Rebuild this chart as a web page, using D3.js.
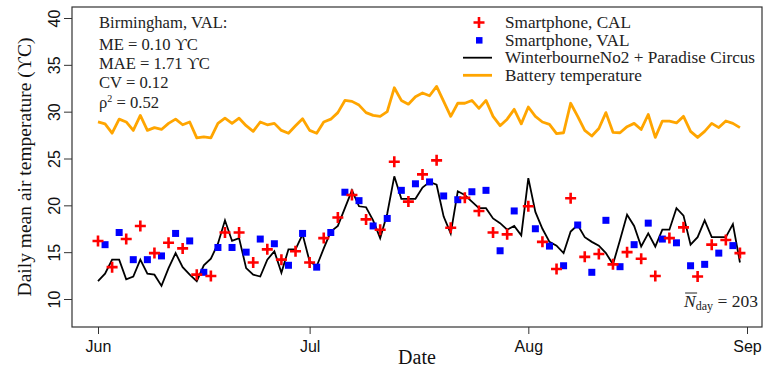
<!DOCTYPE html>
<html lang="en">
  <head>
    <meta charset="UTF-8" />
    <title>Birmingham daily temperature</title>
    <script src="https://d3js.org/d3.v7.min.js"></script>
    <style>
      html,
      body {
        margin: 0;
        padding: 0;
        background: #fff;
      }
      svg {
        display: block;
        font-family: "Liberation Serif", "DejaVu Serif", serif;
      }
      .tick text {
        font-size: 16px;
        fill: #111;
      }
    </style>
  </head>
  <body>
    <svg id="chart" width="768" height="373"></svg>

    <script>
      // Day offsets are counted from 1 June
      const startDate = Date.UTC(2015, 5, 1);

      // WinterbourneNo2 + Paradise Circus, one value per day (1 Jun - 31 Aug)
      const stationTemp = [
        11.9, 12.7, 14.2, 14.2, 12.1, 12.4, 14.2, 12.7, 12.6, 11.4, 13.3, 14.9,
        13.4, 12.6, 11.9, 13.6, 14.3, 15.9, 18.4, 16.2, 16.5, 13.3, 12.6, 12.4,
        14.2, 15.1, 12.8, 15.3, 15.3, 16.9, 14.0, 13.5, 15.4, 17.2, 17.8, 19.7,
        21.6, 19.9, 19.8, 18.4, 16.5, 19.1, 23.1, 20.7, 20.7, 20.7, 21.9, 22.5,
        22.2, 18.8, 17.0, 21.5, 21.1, 20.4, 19.7, 19.7, 18.6, 18.1, 17.4, 17.8,
        16.8, 22.9, 19.3, 17.5, 16.1, 15.7, 14.9, 17.2, 17.9, 16.6, 16.1, 15.7,
        14.9, 13.7, 16.3, 19.0, 17.8, 15.6, 17.0, 15.6, 17.4, 17.4, 19.7, 18.9,
        15.8, 16.6, 18.4, 16.6, 16.6, 16.6, 18.0, 13.9,
      ];

      // Battery temperature, one value per day
      const batteryTemp = [
        28.9, 28.7, 27.7, 29.2, 28.9, 28.0, 29.6, 28.0, 28.3, 28.1, 28.75, 29.2,
        28.6, 28.9, 27.2, 27.3, 27.2, 28.75, 29.3, 28.75, 29.3, 28.5, 27.9, 28.9,
        28.6, 28.75, 28.0, 27.7, 28.5, 29.25, 28.0, 27.7, 28.9, 29.2, 29.9, 31.2,
        31.1, 30.7, 29.9, 29.6, 29.5, 30.0, 32.55, 31.2, 30.8, 31.6, 32.0, 31.7,
        32.7, 31.1, 29.5, 30.9, 30.9, 31.2, 30.35, 31.2, 29.5, 28.5, 29.2, 30.25,
        28.7, 30.5, 29.5, 28.9, 28.65, 27.65, 27.75, 30.9, 29.5, 28.0, 27.4, 28.2,
        29.9, 27.8, 27.75, 28.4, 28.75, 28.1, 29.7, 27.25, 29.0, 29.0, 28.8, 29.5,
        27.9, 27.25, 27.9, 28.75, 28.3, 29.0, 28.75, 28.3,
      ];

      // Smartphone, CAL
      const calDay = [
        0, 2, 4, 6, 8, 10, 12, 14, 16, 18, 20, 22, 24, 26, 28, 30, 32, 34, 36,
        38, 40, 42, 44, 46, 48, 50, 52, 54, 56, 58, 61, 63, 65, 67, 69, 71, 73,
        75, 77, 79, 81, 83, 85, 87, 89, 91,
      ];
      const calTemp = [
        16.2, 13.4, 16.4, 17.8, 14.9, 16.0, 15.4, 12.6, 12.45, 17.1, 17.1, 13.9,
        15.3, 14.2, 15.1, 13.9, 16.5, 18.7, 21.1, 18.5, 17.4, 24.65, 20.4, 23.3,
        24.8, 17.6, 20.8, 19.4, 17.1, 16.9, 19.9, 16.1, 13.2, 20.75, 14.5, 14.8,
        13.7, 15.0, 14.3, 12.45, 16.5, 17.65, 12.4, 15.8, 16.3, 14.9,
      ];

      // Smartphone, VAL
      const valDay = [
        1, 3, 5, 7, 9, 11, 13, 15, 17, 19, 21, 23, 25, 27, 29, 31, 33, 35, 37,
        39, 41, 43, 45, 47, 49, 51, 53, 55, 57, 59, 62, 64, 66, 68, 70, 72, 74,
        76, 78, 80, 82, 84, 86, 88, 90,
      ];
      const valTemp = [
        15.8, 17.1, 14.2, 14.2, 14.6, 17.0, 16.2, 12.85, 15.5, 15.5, 15.0, 16.4,
        15.9, 13.6, 17.0, 13.4, 17.1, 21.4, 20.5, 17.8, 18.6, 21.6, 22.3, 22.5,
        21.0, 20.6, 21.45, 21.6, 15.15, 19.4, 17.5, 15.65, 13.55, 17.9, 12.85,
        18.4, 13.45, 15.8, 18.1, 16.4, 16.0, 13.55, 13.7, 14.9, 15.7,
      ];

      const yTicks = [10, 15, 20, 25, 30, 35, 40];
      const monthTicks = ["Jun", "Jul", "Aug", "Sep"];

      const statLines = [
        "Birmingham, VAL:",
        "ME = 0.10 \u03D2C",
        "MAE = 1.71 \u03D2C",
        "CV = 0.12",
      ];

      const legendLabels = [
        "Smartphone, CAL",
        "Smartphone, VAL",
        "WinterbourneNo2 + Paradise Circus",
        "Battery temperature",
      ];

      const dayToDate = (d) => new Date(startDate + d * 86400000);

      // Plot box
      const box = { left: 72, top: 7, right: 762, bottom: 327 };

      const svg = d3.select("#chart");

      const x = d3
        .scaleUtc()
        .domain([dayToDate(0), dayToDate(92)])
        .range([98, 747]);

      const y = d3.scaleLinear().domain([10, 40]).range([299, 18]);

      // Axes
      const monthDates = monthTicks.map(
        (m, i) => new Date(Date.UTC(2015, 5 + i, 1))
      );
      const xAxis = d3
        .axisBottom(x)
        .tickValues(monthDates)
        .tickFormat((d, i) => monthTicks[i])
        .tickSize(7)
        .tickPadding(4);

      const gx = svg
        .append("g")
        .attr("transform", `translate(0,${box.bottom})`)
        .call(xAxis);
      gx.select(".domain").remove();
      gx.selectAll(".tick line").attr("stroke", "#333");
      gx.selectAll(".tick text").attr("dy", "0.85em");

      const yAxis = d3.axisLeft(y).tickValues(yTicks).tickSize(8);

      const gy = svg
        .append("g")
        .attr("transform", `translate(${box.left},0)`)
        .call(yAxis);
      gy.select(".domain").remove();
      gy.selectAll(".tick line").attr("stroke", "#333");
      // R style: labels parallel to the axis
      gy.selectAll(".tick text")
        .attr("text-anchor", "middle")
        .attr("transform", "rotate(-90)")
        .attr("x", 0)
        .attr("y", -12)
        .attr("dy", 0);

      // Plot frame
      svg
        .append("rect")
        .attr("x", box.left)
        .attr("y", box.top)
        .attr("width", box.right - box.left)
        .attr("height", box.bottom - box.top)
        .attr("fill", "none")
        .attr("stroke", "#333")
        .attr("stroke-width", 1.2);

      // Lines
      const line = d3
        .line()
        .x((d, i) => x(dayToDate(i)))
        .y((d) => y(d));

      svg
        .append("path")
        .datum(batteryTemp)
        .attr("d", line)
        .attr("fill", "none")
        .attr("stroke", "#FFA500")
        .attr("stroke-width", 2.8)
        .attr("stroke-linejoin", "round");

      svg
        .append("path")
        .datum(stationTemp)
        .attr("d", line)
        .attr("fill", "none")
        .attr("stroke", "#000")
        .attr("stroke-width", 1.8);

      // Points
      const drawCross = (g, cx, cy) => {
        g.append("path")
          .attr(
            "d",
            `M${cx - 5.5},${cy}H${cx + 5.5}M${cx},${cy - 5.5}V${cy + 5.5}`
          )
          .attr("stroke", "#FF0000")
          .attr("stroke-width", 2.6);
      };

      const valG = svg.append("g");
      valG
        .selectAll("rect")
        .data(valDay)
        .join("rect")
        .attr("x", (d) => x(dayToDate(d)) - 3.5)
        .attr("y", (d, i) => y(valTemp[i]) - 3.5)
        .attr("width", 7)
        .attr("height", 7)
        .attr("fill", "#0000FF");

      const calG = svg.append("g");
      calDay.forEach((d, i) => drawCross(calG, x(dayToDate(d)), y(calTemp[i])));

      // Stats text, one text element per line
      const statY = [28, 50, 69, 88, 108];
      const stats = svg.append("g").attr("font-size", 16.6).attr("fill", "#222");
      statLines.forEach((s, i) => {
        stats.append("text").attr("x", 99).attr("y", statY[i]).text(s);
      });
      const rho = stats.append("text").attr("x", 99).attr("y", statY[4]);
      rho.append("tspan").text("\u03C1");
      rho.append("tspan").attr("font-size", 10).attr("dy", -6).text("2");
      rho.append("tspan").attr("dy", 6).text(" = 0.52");

      // Legend
      const legend = svg.append("g");
      legendLabels.forEach((lab, i) => {
        const cy = 22.5 + i * 17.6;
        if (i === 0) drawCross(legend, 479, cy);
        if (i === 1)
          legend
            .append("rect")
            .attr("x", 476)
            .attr("y", cy - 3)
            .attr("width", 6.5)
            .attr("height", 6.5)
            .attr("fill", "#0000FF");
        if (i === 2)
          legend
            .append("line")
            .attr("x1", 463)
            .attr("x2", 492)
            .attr("y1", cy)
            .attr("y2", cy)
            .attr("stroke", "#000")
            .attr("stroke-width", 1.8);
        if (i === 3)
          legend
            .append("line")
            .attr("x1", 463)
            .attr("x2", 492)
            .attr("y1", cy)
            .attr("y2", cy)
            .attr("stroke", "#FFA500")
            .attr("stroke-width", 2.8);
        legend
          .append("text")
          .attr("x", 505)
          .attr("y", cy + 5.5)
          .attr("font-size", 17.2)
          .attr("fill", "#222")
          .text(lab);
      });

      // N_day annotation
      const nText = svg
        .append("text")
        .attr("x", 758)
        .attr("y", 307)
        .attr("text-anchor", "end")
        .attr("font-size", 17.5)
        .attr("fill", "#222");
      nText.append("tspan").attr("font-style", "italic").text("N");
      nText.append("tspan").attr("font-size", 12).attr("dy", 3).text("day");
      nText.append("tspan").attr("dy", -3).text(" = 203");

      // overline for N
      nText.each(function () {
        const n = this.firstChild.getBBox();
        svg
          .append("line")
          .attr("x1", n.x + 2)
          .attr("x2", n.x + n.width)
          .attr("y1", n.y + 2)
          .attr("y2", n.y + 2)
          .attr("stroke", "#222")
          .attr("stroke-width", 1);
      });

      // Axis titles
      svg
        .append("text")
        .attr("x", (box.left + box.right) / 2)
        .attr("y", 364)
        .attr("text-anchor", "middle")
        .attr("font-size", 20)
        .attr("fill", "#111")
        .text("Date");

      svg
        .append("text")
        .attr(
          "transform",
          `translate(31,${(box.top + box.bottom) / 2}) rotate(-90)`
        )
        .attr("text-anchor", "middle")
        .attr("font-size", 19.5)
        .attr("fill", "#111")
        .text("Daily mean air temperature (\u03D2C)");
    </script>
  </body>
</html>
